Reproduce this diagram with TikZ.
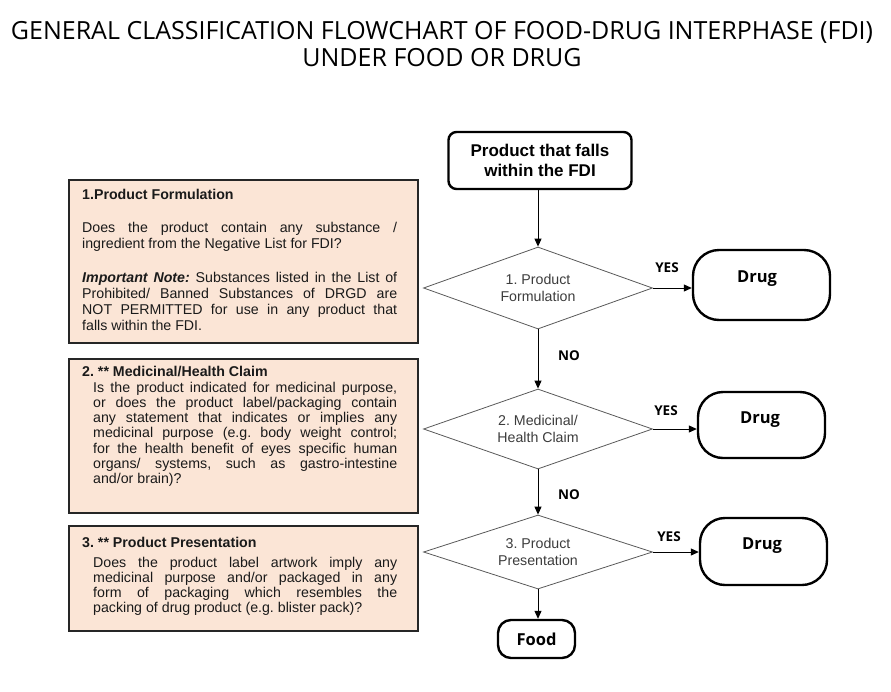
\documentclass[tikz,border=0pt]{standalone}
\usepackage{fontspec}
\setmainfont{Liberation Sans}
\newfontfamily\osans{Open Sans}
\usetikzlibrary{shapes.geometric,arrows.meta}
\definecolor{peach}{HTML}{FBE5D6}
\definecolor{bodyink}{HTML}{1A1A1A}
\definecolor{decink}{HTML}{3C3C3C}
\hyphenpenalty=10000
\frenchspacing
\begin{document}
\begin{tikzpicture}[x=1pt,y=-1pt,
  infobox/.style={draw=black!85, line width=1.6pt, fill=peach, inner sep=0pt, anchor=north west},
  bodytxt/.style={anchor=base west, inner sep=0pt, align=justify, text=bodyink, font=\fontsize{14.2}{16.1}\selectfont},
  headtxt/.style={anchor=base west, inner sep=0pt, text=bodyink, font=\fontsize{14.2}{16}\selectfont\bfseries},
  dec/.style={diamond, aspect=2.8, draw=black!65, line width=0.8pt, inner sep=0pt, align=center, text=decink, font=\fontsize{14.2}{16.5}\selectfont},
  term/.style={draw, line width=2.4pt},
  flow/.style={-{Triangle[length=8pt,width=7pt]}, line width=1pt},
  yn/.style={font=\osans\bfseries\fontsize{13.5}{14}\selectfont},
  drugtxt/.style={anchor=base, inner sep=0pt, font=\osans\bfseries\fontsize{16.5}{18}\selectfont},
  titletxt/.style={anchor=base, inner sep=0pt, font=\osans\fontsize{25}{30}\selectfont}
]
\path[use as bounding box] (0,0) rectangle (891,691);

% title
\node[titletxt] (title1) at (442,39) {GENERAL CLASSIFICATION FLOWCHART OF FOOD-DRUG INTERPHASE (FDI)};
\node[titletxt] (title2) at (442,66) {UNDER FOOD OR DRUG};

% left information boxes
\node[infobox, minimum width=349pt, minimum height=163pt] (box1) at (68,179) {};
\node[headtxt] (h1) at (82,199) {1.Product Formulation};
\node[bodytxt, text width=315pt] (b1a) at (82,232) {Does the product contain any substance /\linebreak ingredient from the Negative List for FDI?};
\node[bodytxt, text width=315pt] (b1b) at (82,282) {\textbf{\textit{Important Note:}} Substances listed in the List of\linebreak Prohibited/ Banned Substances of DRGD are\linebreak NOT PERMITTED for use in any product that\linebreak falls within the FDI.};

\node[infobox, minimum width=349pt, minimum height=154pt] (box2) at (68,358) {};
\node[headtxt] (h2) at (82,376) {2. ** Medicinal/Health Claim};
\node[bodytxt, text width=304pt, font=\fontsize{14.2}{15.3}\selectfont] (b2) at (93,392) {Is the product indicated for medicinal purpose,\linebreak or does the product label/packaging contain\linebreak any statement that indicates or implies any\linebreak medicinal purpose (e.g. body weight control;\linebreak for the health benefit of eyes specific human\linebreak organs/ systems, such as gastro-intestine\linebreak and/or brain)?};

\node[infobox, minimum width=349pt, minimum height=105pt] (box3) at (68,525) {};
\node[headtxt] (h3) at (82,547) {3. ** Product Presentation};
\node[bodytxt, text width=304pt, font=\fontsize{14.2}{15.2}\selectfont] (b3) at (93,567) {Does the product label artwork imply any\linebreak medicinal purpose and/or packaged in any\linebreak form of packaging which resembles the\linebreak packing of drug product (e.g. blister pack)?};

% flow
\node[term, rounded corners=8pt, minimum width=183pt, minimum height=57pt, align=center, font=\bfseries\fontsize{17}{20}\selectfont] (start) at (540,160.5) {Product that falls\\within the FDI};

\node[dec, minimum width=229pt, minimum height=82pt] (d1) at (538,288) {1. Product\\Formulation};
\node[dec, minimum width=229pt, minimum height=80pt] (d2) at (538,429) {2. Medicinal/\\Health Claim};
\node[dec, minimum width=229pt, minimum height=74pt] (d3) at (538,552) {3. Product\\Presentation};

\node[term, rounded corners=26pt, minimum width=137pt, minimum height=70pt] (drugA) at (761.5,285) {};
\node[term, rounded corners=25pt, minimum width=127pt, minimum height=66pt] (drugB) at (761.5,425) {};
\node[term, rounded corners=25pt, minimum width=127pt, minimum height=67pt] (drugC) at (763.5,551.5) {};
\node[drugtxt] (drugAt) at (757,282) {Drug};
\node[drugtxt] (drugBt) at (760,423) {Drug};
\node[drugtxt] (drugCt) at (762,549) {Drug};

\node[term, rounded corners=13pt, minimum width=77pt, minimum height=38pt, font=\osans\bfseries\fontsize{16.5}{18}\selectfont] (food) at (536.5,639) {Food};

\draw[flow] (start.south -| d1.north) -- (d1.north);
\draw[flow] (d1.east) -- (d1.east -| drugA.west);
\draw[flow] (d1.south) -- (d2.north);
\draw[flow] (d2.east) -- (d2.east -| drugB.west);
\draw[flow] (d2.south) -- (d3.north);
\draw[flow] (d3.east) -- (d3.east -| drugC.west);
\draw[flow] (d3.south) -- (d3.south |- food.north);

\node[yn] (yes1) at (667,268) {YES};
\node[yn] (yes2) at (666,411) {YES};
\node[yn] (yes3) at (669,537) {YES};
\node[yn] (no1) at (569,356) {NO};
\node[yn] (no2) at (569,495) {NO};
\end{tikzpicture}
\end{document}
